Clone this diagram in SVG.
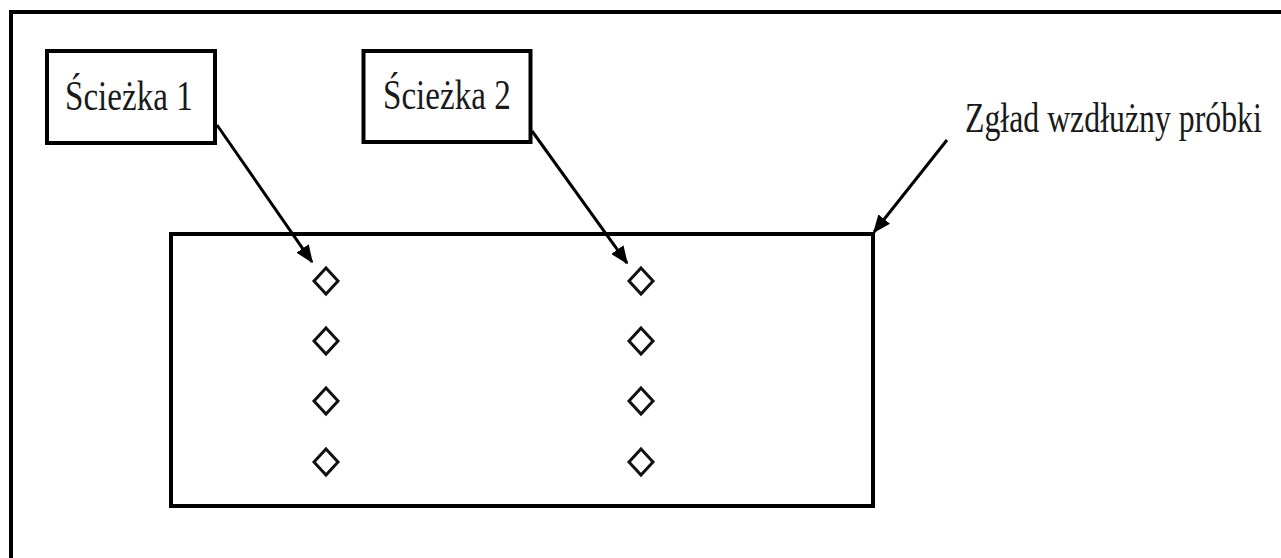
<svg xmlns="http://www.w3.org/2000/svg" width="1281" height="558" viewBox="0 0 1281 558">
<defs>
<style>
.frame{fill:none;stroke:#000;stroke-width:4}
.box{fill:#fff;stroke:#000;stroke-width:4}
.lbl{font-family:"Liberation Serif","Times New Roman",serif;font-size:43px;fill:#1a1a1a}
.conn{fill:none;stroke:#000;stroke-width:3;marker-end:url(#ah)}
.pt{fill:#fff;stroke:#111;stroke-width:3;stroke-linejoin:miter}
</style>
<marker id="ah" markerWidth="6" markerHeight="5" refX="5.5" refY="2.5" orient="auto" markerUnits="strokeWidth">
<path d="M0,0 L6,2.5 L0,5 Z" fill="#000"/>
</marker>
</defs>
<rect width="1281" height="558" fill="#fff"/>
<rect class="frame" x="11" y="12" width="1290" height="560"/>
<g id="sample">
<rect class="frame" x="171" y="234" width="702" height="272"/>
</g>
<g id="path1-points">
<path class="pt" d="M326,268 L338,281 L326,294 L314,281 Z"/>
<path class="pt" d="M326,328 L338,341 L326,354 L314,341 Z"/>
<path class="pt" d="M326,388 L338,401 L326,414 L314,401 Z"/>
<path class="pt" d="M326,449 L338,462 L326,475 L314,462 Z"/>
</g>
<g id="path2-points">
<path class="pt" d="M641,268 L653,281 L641,294 L629,281 Z"/>
<path class="pt" d="M641,328 L653,341 L641,354 L629,341 Z"/>
<path class="pt" d="M641,388 L653,401 L641,414 L629,401 Z"/>
<path class="pt" d="M641,449 L653,462 L641,475 L629,462 Z"/>
</g>
<g id="connectors">
<line class="conn" x1="217" y1="125" x2="312" y2="262"/>
<line class="conn" x1="532" y1="131" x2="627" y2="263"/>
<line class="conn" x1="947" y1="140" x2="874" y2="232"/>
</g>
<g id="label1">
<rect class="box" x="47" y="51" width="168" height="92"/>
<text class="lbl" transform="translate(65,110) scale(0.77,1)">Ścieżka 1</text>
</g>
<g id="label2">
<rect class="box" x="363.5" y="51" width="167" height="91"/>
<text class="lbl" transform="translate(383,109) scale(0.77,1)">Ścieżka 2</text>
</g>
<g id="label3">
<text class="lbl" transform="translate(965,132) scale(0.74,1)">Zgład wzdłużny próbki</text>
</g>
</svg>
